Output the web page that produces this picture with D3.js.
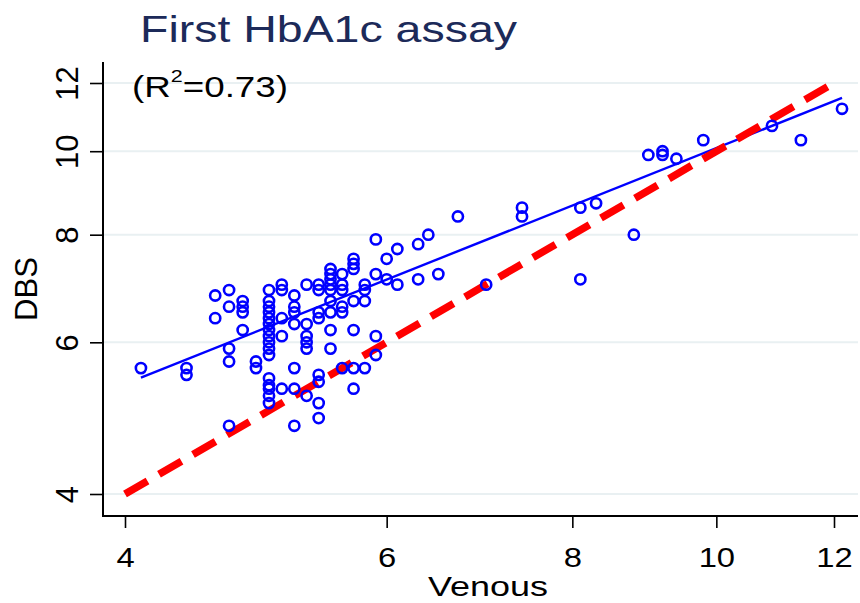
<!DOCTYPE html>
<html>
<head>
<meta charset="utf-8">
<script src="https://cdn.jsdelivr.net/npm/d3@7"></script>
<style>
	body { margin: 0; background: #fff; }
	svg { display: block; font-family: "Liberation Sans", Arial, Helvetica, sans-serif; }
</style>
</head>
<body>
<div class="chart__hba1c"><svg></svg></div>
<script>
(function() {

	//DATA
	var titleText = 'First HbA1c assay';
	var r2Text = '0.73';
	var xLabel = 'Venous';
	var yLabel = 'DBS';
	var ticks = [4, 6, 8, 10, 12];

	// venous vs dbs, one row per venous value
	var venous = [
		4.1,
		4.4, 4.4,
		4.6, 4.6,
		4.7, 4.7, 4.7, 4.7, 4.7,
		4.8, 4.8, 4.8, 4.8,
		4.9, 4.9,
		5.0, 5.0, 5.0, 5.0, 5.0, 5.0, 5.0, 5.0, 5.0, 5.0, 5.0, 5.0, 5.0, 5.0, 5.0, 5.0,
		5.1, 5.1, 5.1, 5.1, 5.1,
		5.2, 5.2, 5.2, 5.2, 5.2, 5.2, 5.2,
		5.3, 5.3, 5.3, 5.3, 5.3, 5.3,
		5.4, 5.4, 5.4, 5.4, 5.4, 5.4, 5.4, 5.4,
		5.5, 5.5, 5.5, 5.5, 5.5, 5.5, 5.5, 5.5, 5.5,
		5.6, 5.6, 5.6, 5.6, 5.6, 5.6,
		5.7, 5.7, 5.7, 5.7, 5.7, 5.7, 5.7,
		5.8, 5.8, 5.8, 5.8,
		5.9, 5.9, 5.9, 5.9,
		6.0, 6.0,
		6.1, 6.1,
		6.3, 6.3,
		6.4,
		6.5,
		6.7,
		7.0,
		7.4, 7.4,
		8.1, 8.1,
		8.3,
		8.8,
		9.0,
		9.2, 9.2,
		9.4,
		9.8,
		10.9,
		11.4,
		12.15
	];
	var dbs = [
		5.6,
		5.6, 5.5,
		6.8, 6.4,
		6.9, 6.6, 5.9, 5.7, 4.8,
		6.7, 6.6, 6.5, 6.2,
		5.7, 5.6,
		6.9, 6.7, 6.6, 6.5, 6.4, 6.3, 6.2, 6.1, 6.0, 5.9, 5.8, 5.45, 5.35, 5.3, 5.2, 5.1,
		7.0, 6.9, 6.4, 6.1, 5.3,
		6.8, 6.6, 6.5, 6.3, 5.6, 5.3, 4.8,
		7.0, 6.3, 6.1, 6.0, 5.9, 5.2,
		7.0, 6.9, 6.5, 6.4, 5.5, 5.4, 5.1, 4.9,
		7.3, 7.2, 7.1, 7.0, 6.9, 6.7, 6.5, 6.2, 5.9,
		7.2, 7.0, 6.9, 6.6, 6.5, 5.6,
		7.5, 7.4, 7.3, 6.7, 6.2, 5.6, 5.3,
		7.0, 6.9, 6.7, 5.6,
		7.9, 7.2, 6.1, 5.8,
		7.5, 7.1,
		7.7, 7.0,
		7.8, 7.1,
		8.0,
		7.2,
		8.4,
		7.0,
		8.6, 8.4,
		8.6, 7.1,
		8.7,
		8.0,
		9.9,
		10.0, 9.9,
		9.8,
		10.3,
		10.7,
		10.3,
		11.2
	];

	// fitted line (log-log) and line of equality
	var fitVenous = [4.1, 12.15];
	var fitDbs = [5.46, 11.53];
	var equalVenous = [4, 12];
	var equalDbs = [4, 12];

	//VARS
	var width = 860;
	var height = 603;
	var plot = { left: 103, right: 858, top: 62, bottom: 516 };
	var scales = {};
	var svg = d3.select('.chart__hba1c svg')
		.attr('width', width)
		.attr('height', height);

	function setupScales() {
		scales.x = d3.scaleLog().domain([4, 12]).range([125, 834]);
		scales.y = d3.scaleLog().domain([4, 12]).range([494, 83]);
	}

	function drawGrid() {
		svg.append('g')
			.attr('class', 'grid')
			.selectAll('line')
			.data(ticks)
			.enter().append('line')
			.attr('x1', plot.left)
			.attr('x2', plot.right)
			.attr('y1', function(d) { return scales.y(d); })
			.attr('y2', function(d) { return scales.y(d); })
			.attr('stroke', '#e9f0f2')
			.attr('stroke-width', 2);
	}

	function drawAxes() {
		var axisX = d3.axisBottom(scales.x)
			.tickValues(ticks)
			.tickFormat(d3.format('d'))
			.tickSizeOuter(0)
			.tickSize(12);

		var gx = svg.append('g')
			.attr('class', 'axis axis--x')
			.attr('transform', 'translate(0,' + plot.bottom + ')')
			.call(axisX);

		gx.selectAll('.tick line').attr('stroke', '#000').attr('stroke-width', 1.6);
		gx.selectAll('.tick text')
			.attr('y', 51)
			.attr('dy', null)
			.attr('fill', '#000')
			.attr('font-size', 28)
			.attr('transform', 'scale(1.17,1)');

		var axisY = d3.axisLeft(scales.y)
			.tickValues(ticks)
			.tickFormat(d3.format('d'))
			.tickSizeOuter(0)
			.tickSize(13);

		var gy = svg.append('g')
			.attr('class', 'axis axis--y')
			.attr('transform', 'translate(' + plot.left + ',0)')
			.call(axisY);

		gy.selectAll('.tick line').attr('stroke', '#000').attr('stroke-width', 1.6);
		gy.selectAll('.tick text')
			.attr('x', 0)
			.attr('y', -25)
			.attr('dy', null)
			.attr('text-anchor', 'middle')
			.attr('fill', '#000')
			.attr('font-size', 31)
			.attr('transform', 'rotate(-90)');

		// own axis lines over the whole plot region
		gx.select('.domain').remove();
		gy.select('.domain').remove();

		svg.append('line')
			.attr('x1', plot.left).attr('x2', plot.right)
			.attr('y1', plot.bottom).attr('y2', plot.bottom)
			.attr('stroke', '#000').attr('stroke-width', 2);

		svg.append('line')
			.attr('x1', plot.left).attr('x2', plot.left)
			.attr('y1', plot.top).attr('y2', plot.bottom + 1)
			.attr('stroke', '#000').attr('stroke-width', 2);
	}

	function drawLines() {
		var line = d3.line()
			.x(function(d) { return scales.x(d[0]); })
			.y(function(d) { return scales.y(d[1]); });

		svg.append('path')
			.datum(d3.zip(fitVenous, fitDbs))
			.attr('class', 'fit')
			.attr('d', line)
			.attr('fill', 'none')
			.attr('stroke', '#0000ff')
			.attr('stroke-width', 2.4);

		svg.append('path')
			.datum(d3.zip(equalVenous, equalDbs))
			.attr('class', 'equality')
			.attr('d', line)
			.attr('fill', 'none')
			.attr('stroke', '#ff0000')
			.attr('stroke-width', 7.5)
			.attr('stroke-dasharray', '26,13.3');
	}

	function drawPoints() {
		svg.append('g')
			.attr('class', 'points')
			.selectAll('circle')
			.data(d3.zip(venous, dbs))
			.enter().append('circle')
			.attr('cx', function(d) { return scales.x(d[0]); })
			.attr('cy', function(d) { return scales.y(d[1]); })
			.attr('r', 5.1)
			.attr('fill', 'none')
			.attr('stroke', '#0000ff')
			.attr('stroke-width', 2.6);
	}

	function drawLabels() {
		svg.append('text')
			.attr('class', 'title')
			.attr('x', 140)
			.attr('y', 42)
			.attr('font-size', 37)
			.attr('fill', '#1c2a59')
			.attr('textLength', 377)
			.attr('lengthAdjust', 'spacingAndGlyphs')
			.text(titleText);

		var r2 = svg.append('text')
			.attr('class', 'r2')
			.attr('x', 132)
			.attr('y', 97)
			.attr('font-size', 29)
			.attr('fill', '#000')
			.attr('textLength', 156)
			.attr('lengthAdjust', 'spacingAndGlyphs');
		r2.append('tspan').text('(R');
		r2.append('tspan').attr('font-size', 17).attr('dy', -15).text('2');
		r2.append('tspan').attr('dy', 15).text('=' + r2Text + ')');

		svg.append('text')
			.attr('class', 'label--x')
			.attr('x', 428)
			.attr('y', 596)
			.attr('font-size', 27)
			.attr('fill', '#000')
			.attr('textLength', 120)
			.attr('lengthAdjust', 'spacingAndGlyphs')
			.text(xLabel);

		svg.append('text')
			.attr('class', 'label--y')
			.attr('text-anchor', 'middle')
			.attr('transform', 'translate(37,289)rotate(-90)')
			.attr('font-size', 31)
			.attr('fill', '#000')
			.text(yLabel);
	}

	function init() {
		setupScales();
		drawGrid();
		drawAxes();
		drawLines();
		drawPoints();
		drawLabels();
	}

	init();
})();
</script>
</body>
</html>
